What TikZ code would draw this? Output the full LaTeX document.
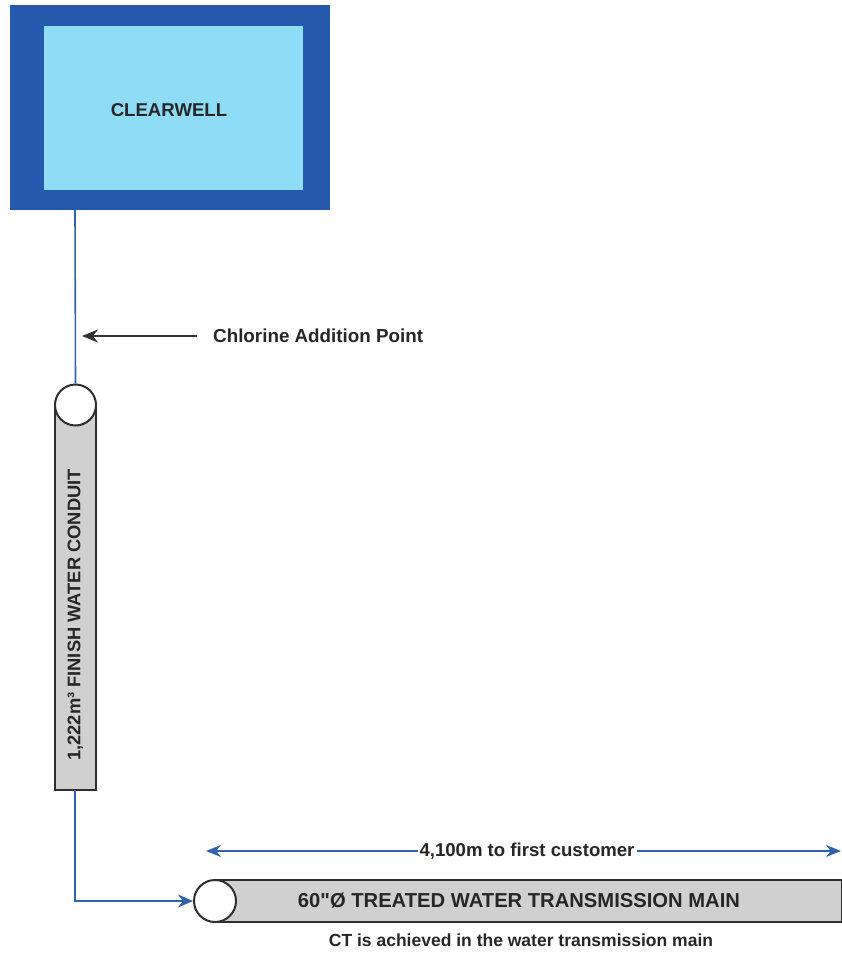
\documentclass[tikz,border=0pt]{standalone}
\usepackage{fontspec}
\setmainfont{Liberation Sans}[Ligatures=TeXOff]
\usetikzlibrary{arrows.meta}
\definecolor{tankblue}{HTML}{2459AD}
\definecolor{waterblue}{HTML}{8EDCF6}
\definecolor{lineblue}{HTML}{2F64AA}
\definecolor{pipegray}{HTML}{D0D0D0}
\definecolor{pipeedge}{HTML}{2E2E2E}
\newcommand{\fsz}[1]{\fontsize{#1}{#1}\selectfont\bfseries}
\tikzset{
  lbl/.style={font=\fsz{18}, text=black!85, inner sep=1pt},
  pipe/.style={fill=pipegray, draw=pipeedge, line width=2pt},
  pipeend/.style={circle, fill=white, draw=pipeedge, line width=2pt, minimum size=41pt, inner sep=0pt},
  flow/.style={draw=lineblue, line width=1.6pt},
  flowarrow/.style={flow, -{Stealth[length=15pt, width=13pt]}},
  dimarrow/.style={flow, {Stealth[length=15pt, width=12pt]}-{Stealth[length=15pt, width=12pt]}},
  callout/.style={draw=black!80, line width=2pt, -{Stealth[length=16pt, width=13pt]}}
}
\begin{document}
\begin{tikzpicture}[x=1pt,y=-1pt]
\useasboundingbox (0,0) rectangle (841,955);
% clearwell
\fill[tankblue] (10,5) rectangle (330,210);
\fill[waterblue] (44,26) rectangle (303,190);
\node[lbl, font=\fsz{18.6}] (cw) at (169,110) {CLEARWELL};
\coordinate (cwout) at (75,210);
% vertical conduit
\path[pipe] (55,405) rectangle (96,790);
\node[pipeend] (c1) at (75.5,405) {};
\node[lbl, rotate=90, font=\fsz{18.3}] (condtxt) at (75.5,615) {1,222m³ FINISH WATER CONDUIT};
\coordinate (c1bot) at (75,790);
\draw[flow] (cwout) -- (c1.north);
% chlorine
\coordinate (clstart) at (197,336);
\coordinate (cltip) at (82,336);
\draw[callout] (clstart) -- (cltip);
\node[lbl, anchor=west, font=\fsz{18.8}] (cl) at (212,336) {Chlorine Addition Point};
% transmission main
\path[pipe] (215,880) rectangle (842,922);
\node[pipeend, minimum size=42pt] (c2) at (215,901) {};
\node[lbl, font=\fsz{20.2}] (maintxt) at (519,901) {60"Ø TREATED WATER TRANSMISSION MAIN};
\node[lbl, font=\fsz{17.5}] (cttxt) at (521,940) {CT is achieved in the water transmission main};
\draw[flowarrow] (c1bot) |- (c2.west);
% dimension
\coordinate (dl) at (206,851);
\coordinate (dr) at (841,851);
\draw[dimarrow] (dl) -- (dr);
\node[lbl, fill=white, inner xsep=2pt, font=\fsz{18.6}] (dim) at (527,851) {4,100m to first customer};
\end{tikzpicture}
\end{document}
